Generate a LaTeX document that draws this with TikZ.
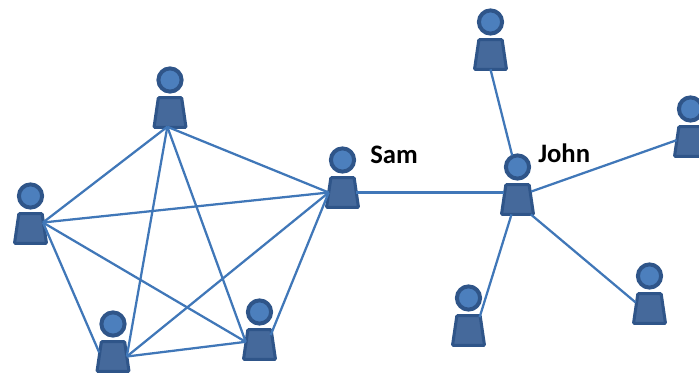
\documentclass[tikz,border=0pt]{standalone}
\usepackage{fontspec}
\setmainfont{Carlito}
\usetikzlibrary{shapes.geometric}
\definecolor{bodyfill}{HTML}{45699B}
\definecolor{edgedark}{HTML}{2F5589}
\definecolor{headfill}{HTML}{4C7FBD}
\definecolor{linkblue}{HTML}{4077B8}
\tikzset{
  headshape/.style={circle,draw=edgedark,fill=headfill,line width=3pt,minimum size=17.4pt,inner sep=0pt,outer sep=0pt},
  bodyshape/.style={trapezium,trapezium left angle=80,trapezium right angle=80,trapezium stretches=true,
    draw=edgedark,fill=bodyfill,line width=2.3pt,rounded corners=0.8pt,minimum width=24pt,minimum height=22.4pt,inner sep=1pt,outer sep=0pt},
  link/.style={draw=linkblue,line width=1.7pt},
  namelabel/.style={font=\bfseries\fontsize{20}{22}\selectfont,text=black,inner sep=0pt,anchor=base west}
}
\newcommand{\person}[3]{%
  \node[headshape] (#1h) at (#2,#3) {};
  \node[bodyshape] (#1) at (#2,#3+32.5) {\phantom{x}};
}
\begin{document}
\begin{tikzpicture}[x=0.75pt,y=-0.75pt]
\useasboundingbox (0,0) rectangle (699,374);
% connectors first, ends defined after the persons via named coordinates
\person{sam}{342.5}{160}
\person{john}{517.5}{167}
\person{left}{30.5}{196}
\person{botl}{113}{324}
\person{top}{170}{80}
\person{botr}{259.5}{312}
\person{topr}{490.5}{22}
\person{right}{690.5}{109}
\person{lowr}{649.5}{276}
\person{lowm}{468.5}{298}
\coordinate (lefthub) at ([yshift=4.5pt,xshift=-1pt]left.east);
\coordinate (tophub) at ([yshift=0.5pt,xshift=-2pt]top.south);
\coordinate (botlhub) at (botl.east);
\coordinate (botrhub) at ([yshift=2pt]botr.west);
\coordinate (samin) at (sam.west);
% left cluster
\draw[link] (lefthub) -- (tophub);
\draw[link] (lefthub) -- (samin);
\draw[link] (lefthub) -- (botrhub);
\draw[link] (lefthub) -- ([yshift=3pt]botl.west);
\draw[link] (tophub) -- (botlhub);
\draw[link] (tophub) -- (botrhub);
\draw[link] (tophub) -- (samin);
\draw[link] (botlhub) -- (samin);
\draw[link] (botlhub) -- (botrhub);
\draw[link] ([yshift=7pt,xshift=-2pt]botr.east) -- (samin);
% right cluster
\coordinate (johnin) at (john.west |- sam.east);
\draw[link,line width=2.1pt] (sam.east) -- (johnin);
\draw[link] (topr.south) -- ([xshift=-4pt]johnh.north);
\draw[link] ([yshift=1pt]right.west) -- ([yshift=6pt]john.east);
\draw[link] ([yshift=10pt,xshift=-2pt]lowm.east) -- ([xshift=-4.5pt]john.south);
\draw[link] ([yshift=4.5pt]lowr.west) -- ([xshift=-2pt]john.bottom right corner);
\node[namelabel] (samlabel) at (370,163) {Sam};
\node[namelabel] (johnlabel) at (538,162) {John};
\end{tikzpicture}
\end{document}
